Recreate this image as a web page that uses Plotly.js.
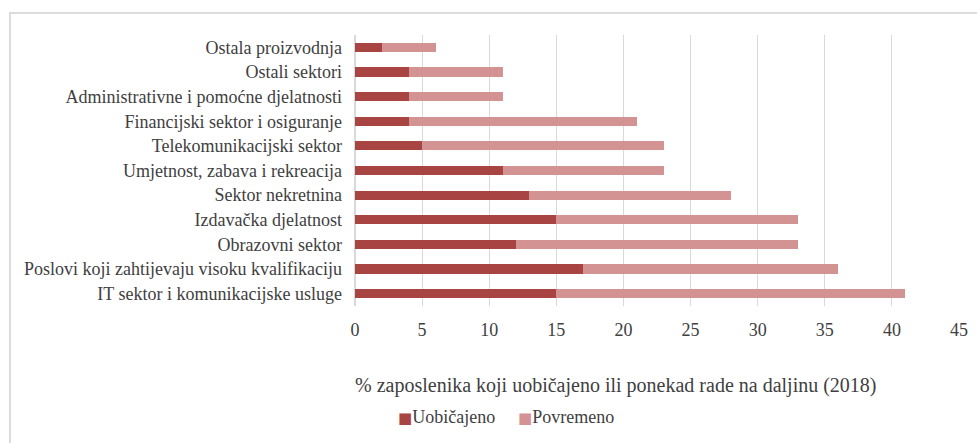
<!DOCTYPE html>
<html><head><meta charset="utf-8">
<script src="https://cdn.plot.ly/plotly-3.0.1.min.js"></script>
<style>
html,body{margin:0;padding:0;background:#fff;}
#wrap{position:relative;width:977px;height:443px;overflow:hidden;}
#frame{position:absolute;left:9px;top:12px;width:1200px;height:600px;border-top:2px solid #dcdcdc;border-left:2px solid #dcdcdc;}
#chart{position:absolute;left:0;top:0;width:977px;height:443px;}
</style></head>
<body><div id="wrap"><div id="frame"></div><div id="chart"></div></div>
<script>
const categories = [
  "IT sektor i komunikacijske usluge",
  "Poslovi koji zahtijevaju visoku kvalifikaciju",
  "Obrazovni sektor",
  "Izdavačka djelatnost",
  "Sektor nekretnina",
  "Umjetnost, zabava i rekreacija",
  "Telekomunikacijski sektor",
  "Financijski sektor i osiguranje",
  "Administrativne i pomoćne djelatnosti",
  "Ostali sektori",
  "Ostala proizvodnja"
];
const uobicajeno = [15, 17, 12, 15, 13, 11, 5, 4, 4, 4, 2];
const povremeno  = [26, 19, 21, 18, 15, 12, 18, 17, 7, 7, 4];
const xTicks = [0,5,10,15,20,25,30,35,40,45];
const seriesNames = ["Uobičajeno", "Povremeno"];
const seriesColors = ["#A84543", "#D39393"];
const axisTitle = "% zaposlenika koji uobičajeno ili ponekad rade na daljinu (2018)";

const W = 977, H = 443, L = 355, R = 18, T = 35, B = 137;
const pw = W - L - R, ph = H - T - B;
const font = "Liberation Serif, Times New Roman, serif";
const px = v => (v - L) / pw;
const py = v => (T + ph - v) / ph;

const traces = [
  {type:'bar', orientation:'h', y:categories, x:uobicajeno, name:seriesNames[0],
   marker:{color:seriesColors[0]}},
  {type:'bar', orientation:'h', y:categories, x:povremeno, name:seriesNames[1],
   marker:{color:seriesColors[1]}}
];
const legendAnn = seriesNames.map((n, i) => ({
  text:'<span style="color:' + seriesColors[i] + ';font-family:DejaVu Sans;font-size:15px">■</span>' + n,
  xref:'paper', yref:'paper', x:px([396, 516][i]), y:py(417), xanchor:'left', yanchor:'middle',
  showarrow:false, font:{size:18, color:'#404040'}
}));
const layout = {
  width:W, height:H, barmode:'stack', bargap:0.63,
  margin:{l:L, r:R, t:T, b:B, pad:0},
  paper_bgcolor:'rgba(0,0,0,0)', plot_bgcolor:'rgba(0,0,0,0)',
  font:{family:font, size:16, color:'#404040'},
  xaxis:{range:[0,45], tickvals:xTicks, ticktext:xTicks.map(String), showgrid:true,
         gridcolor:'#d9d9d9', gridwidth:1, zeroline:true, zerolinecolor:'#d9d9d9', zerolinewidth:2,
         showline:false, ticks:'', ticklen:0, ticklabelstandoff:11, tickfont:{size:18, color:'#404040'}, fixedrange:true},
  yaxis:{type:'category', showgrid:false, zeroline:false, showline:false, ticks:'',
         ticklabelstandoff:12, tickfont:{size:18, color:'#404040'}},
  showlegend:false,
  annotations:[{text:axisTitle, xref:'paper', yref:'paper', x:px(616), y:py(385),
                xanchor:'center', yanchor:'middle', showarrow:false, font:{size:20, color:'#404040'}}]
    .concat(legendAnn)
};
Plotly.newPlot('chart', traces, layout, {displayModeBar:false, staticPlot:true});
</script></body></html>
